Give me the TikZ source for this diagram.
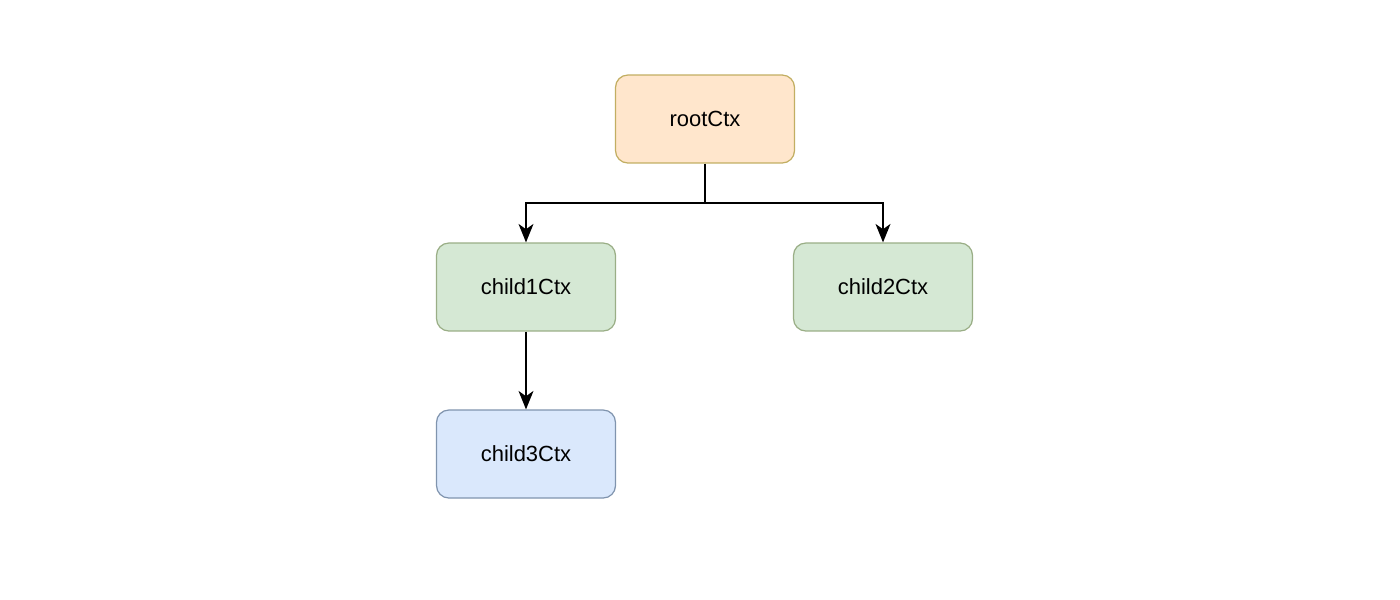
\documentclass[tikz,border=0pt]{standalone}
\usepackage{fontspec}
\setmainfont{Liberation Sans}
\usetikzlibrary{arrows.meta}

\definecolor{orangefill}{HTML}{FFE6CC}
\definecolor{orangeline}{HTML}{C2AE62}
\definecolor{greenfill}{HTML}{D5E8D4}
\definecolor{greenline}{HTML}{9AAE86}
\definecolor{bluefill}{HTML}{DAE8FC}
\definecolor{blueline}{HTML}{8094AE}

\begin{document}
\begin{tikzpicture}[x=0.02cm,y=-0.02cm,
	ctx/.style={draw,rectangle,rounded corners=7pt,minimum width=3.58cm,minimum height=1.76cm,font=\fontsize{12.5}{14}\selectfont,line width=0.7pt},
	link/.style={-{Stealth[length=10.5pt,width=8.5pt,inset=3pt]},line width=1pt}]
			\useasboundingbox (0,0) rectangle (1400,599);
			\node[ctx,fill=orangefill,draw=orangeline] (root)at(705,119) {rootCtx};
			\node[ctx,fill=greenfill,draw=greenline] (child1)at(526,287) {child1Ctx};
			\node[ctx,fill=greenfill,draw=greenline] (child2)at(883,287) {child2Ctx};
			\node[ctx,fill=bluefill,draw=blueline] (child3)at(526,454) {child3Ctx};
			\coordinate (split)at(705,203);
			\draw[line width=1pt] (root.south) -- (split);
			\draw[link] (split) -| (child1.north);
			\draw[link] (split) -| (child2.north);
			\draw[link] (child1.south) -- (child3.north);
			\end{tikzpicture}
\end{document}
